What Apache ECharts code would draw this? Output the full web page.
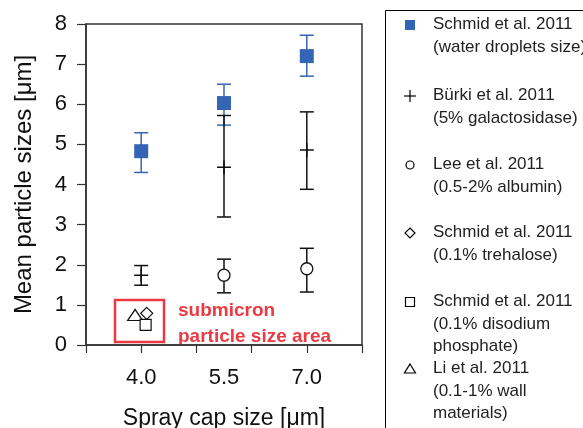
<!DOCTYPE html>
<html><head><meta charset="utf-8">
<script src="https://cdn.jsdelivr.net/npm/echarts@6/dist/echarts.min.js"></script>
<style>html,body{margin:0;padding:0;background:#fff}#c{width:583px;height:428px}</style>
</head><body><div id="c"></div>
<script>
// ---- data ----
const capSizes = [4.0, 5.5, 7.0];
const xTickLabels = [4.0, 5.5, 7.0];
const yTicks = [0, 1, 2, 3, 4, 5, 6, 7, 8];

const waterMean = [4.83, 6.03, 7.20];
const waterLow  = [4.30, 5.48, 6.70];
const waterHigh = [5.29, 6.50, 7.72];

const burkiMean = [1.74, 4.43, 4.86];
const burkiLow  = [1.49, 3.19, 3.88];
const burkiHigh = [1.98, 5.72, 5.81];

const leeX    = [5.5, 7.0];
const leeMean = [1.74, 1.90];
const leeLow  = [1.30, 1.32];
const leeHigh = [2.14, 2.41];

const trehalose = [[4.10, 0.79]];
const phosphate = [[4.08, 0.50]];
const liWall    = [[3.89, 0.75]];

const legendItems = [
  ['Schmid et al. 2011', '(water droplets size)'],
  ['Bürki et al. 2011', '(5% galactosidase)'],
  ['Lee et al. 2011', '(0.5-2% albumin)'],
  ['Schmid et al. 2011', '(0.1% trehalose)'],
  ['Schmid et al. 2011', '(0.1% disodium', 'phosphate)'],
  ['Li et al. 2011', '(0.1-1% wall', 'materials)']
];

// ---- chart ----
const BLUE = '#3465b4';
const RED = '#ec3a42';
const FONT = '"Liberation Sans", Arial, sans-serif';

function errSeries(xs, lo, hi, color) {
  return {
    type: 'custom',
    silent: true,
    z: 2,
    data: xs.map((x, i) => [x, lo[i], hi[i]]),
    renderItem: function (params, api) {
      const p1 = api.coord([api.value(0), api.value(1)]);
      const p2 = api.coord([api.value(0), api.value(2)]);
      const w = 7;
      const st = { stroke: color, lineWidth: 1.5 };
      return {
        type: 'group',
        children: [
          { type: 'line', shape: { x1: p1[0], y1: p1[1], x2: p2[0], y2: p2[1] }, style: st },
          { type: 'line', shape: { x1: p1[0] - w, y1: p1[1], x2: p1[0] + w, y2: p1[1] }, style: st },
          { type: 'line', shape: { x1: p2[0] - w, y1: p2[1], x2: p2[0] + w, y2: p2[1] }, style: st }
        ]
      };
    }
  };
}

const PLUS = 'path://M0,10L20,10M10,0L10,20';

const chart = echarts.init(document.getElementById('c'), null, { renderer: 'canvas' });

const gfx = [];
gfx.push({
  type: 'rect', left: 385, top: 10, shape: { x: 0, y: 0, width: 220, height: 440 },
  style: { fill: '#fff', stroke: '#000', lineWidth: 1 }, z: 0
});
const legendY = [25, 96, 165, 233, 302, 369];
const markerX = 410;
legendItems.forEach((lines, i) => {
  gfx.push({
    type: 'text', x: 433, y: legendY[i] - 11.5,
    style: { text: lines.join('\n'), font: '17px ' + FONT, fill: '#222', lineHeight: 22.5, textVerticalAlign: 'top' }
  });
});
const my = legendY;
gfx.push({ type: 'rect', shape: { x: markerX - 5, y: my[0] - 5, width: 10, height: 10 }, style: { fill: BLUE } });
gfx.push({ type: 'polyline', shape: { points: [[markerX - 6, my[1]], [markerX + 6, my[1]]] }, style: { stroke: '#000', lineWidth: 1.2 } });
gfx.push({ type: 'polyline', shape: { points: [[markerX, my[1] - 6], [markerX, my[1] + 6]] }, style: { stroke: '#000', lineWidth: 1.2 } });
gfx.push({ type: 'circle', shape: { cx: markerX, cy: my[2], r: 4 }, style: { fill: '#fff', stroke: '#000', lineWidth: 1.2 } });
gfx.push({ type: 'polygon', shape: { points: [[markerX, my[3] - 5], [markerX + 5, my[3]], [markerX, my[3] + 5], [markerX - 5, my[3]]] }, style: { fill: '#fff', stroke: '#000', lineWidth: 1.2 } });
gfx.push({ type: 'rect', shape: { x: markerX - 4.5, y: my[4] - 4.5, width: 9, height: 9 }, style: { fill: '#fff', stroke: '#000', lineWidth: 1.2 } });
gfx.push({ type: 'polygon', shape: { points: [[markerX, my[5] - 5], [markerX + 5.5, my[5] + 4], [markerX - 5.5, my[5] + 4]] }, style: { fill: '#fff', stroke: '#000', lineWidth: 1.2 } });

// submicron annotation
gfx.push({
  type: 'rect', shape: { x: 115, y: 300, width: 49, height: 42 },
  style: { fill: 'none', stroke: RED, lineWidth: 2.5 }, z: 1
});
gfx.push({
  type: 'text', x: 178, y: 298,
  style: { text: 'submicron\nparticle size area', font: 'bold 19px ' + FONT, fill: RED, lineHeight: 26, textVerticalAlign: 'top' }
});

const option = {
  animation: false,
  backgroundColor: '#fff',
  grid: { left: 86, right: 221, top: 24, bottom: 83, outerBoundsMode: 'none', containLabel: false,
          show: true, borderColor: '#333', borderWidth: 1.5, backgroundColor: 'transparent' },
  xAxis: {
    type: 'value', min: 3, max: 8, interval: 1,
    name: 'Spray cap size [μm]', nameLocation: 'middle', nameGap: 62,
    nameTextStyle: { fontSize: 23, color: '#111', fontFamily: FONT },
    axisLine: { onZero: false, lineStyle: { color: '#333', width: 1.5 } },
    axisTick: { show: true, length: 8, lineStyle: { color: '#333', width: 1.2 } },
    axisLabel: { customValues: xTickLabels, formatter: v => v.toFixed(1), fontSize: 22, color: '#111', margin: 22, fontFamily: FONT },
    splitLine: { show: false }
  },
  yAxis: {
    type: 'value', min: 0, max: 8, interval: 1,
    name: 'Mean particle sizes [μm]', nameLocation: 'middle', nameGap: 50,
    nameTextStyle: { fontSize: 24, color: '#111', fontFamily: FONT },
    axisLine: { show: true, lineStyle: { color: '#333', width: 1.5 } },
    axisTick: { show: true, length: 9, lineStyle: { color: '#333', width: 1.2 } },
    axisLabel: { fontSize: 22, color: '#111', margin: 19, fontFamily: FONT, customValues: yTicks },
    splitLine: { show: false }
  },
  graphic: gfx,
  series: [
    errSeries(capSizes, waterLow, waterHigh, BLUE),
    errSeries(capSizes, burkiLow, burkiHigh, '#111'),
    errSeries(leeX, leeLow, leeHigh, '#111'),
    { type: 'scatter', name: 'water', z: 5, symbol: 'rect', symbolSize: 14,
      itemStyle: { color: BLUE, opacity: 1 },
      data: capSizes.map((x, i) => [x, waterMean[i]]) },
    { type: 'scatter', name: 'burki', z: 5, symbol: PLUS, symbolSize: 14,
      itemStyle: { color: 'none', borderColor: '#111', borderWidth: 1.5, opacity: 1 },
      data: capSizes.map((x, i) => [x, burkiMean[i]]) },
    { type: 'scatter', name: 'lee', z: 5, symbol: 'circle', symbolSize: 12,
      itemStyle: { color: '#fff', borderColor: '#111', borderWidth: 1.3, opacity: 1 },
      data: leeX.map((x, i) => [x, leeMean[i]]) },
    { type: 'scatter', name: 'li', z: 5, symbol: 'triangle', symbolSize: [15, 11],
      itemStyle: { color: '#fff', borderColor: '#111', borderWidth: 1.2, opacity: 1 },
      data: liWall },
    { type: 'scatter', name: 'trehalose', z: 6, symbol: 'diamond', symbolSize: [12, 12],
      itemStyle: { color: '#fff', borderColor: '#111', borderWidth: 1.2, opacity: 1 },
      data: trehalose },
    { type: 'scatter', name: 'phosphate', z: 7, symbol: 'rect', symbolSize: 11,
      itemStyle: { color: '#fff', borderColor: '#111', borderWidth: 1.2, opacity: 1 },
      data: phosphate }
  ]
};
chart.setOption(option);
</script></body></html>
